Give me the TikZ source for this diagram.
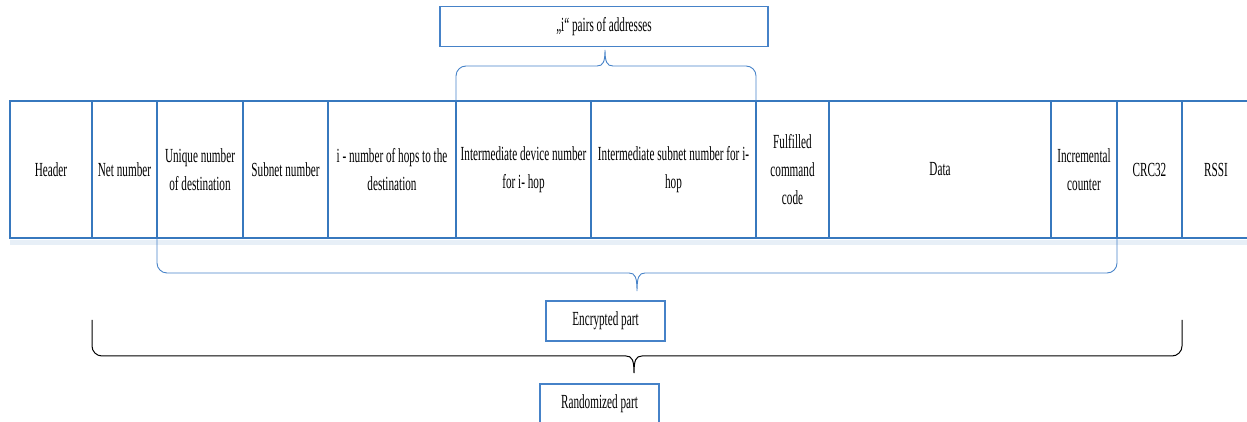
\documentclass[tikz,border=0pt]{standalone}
\usepackage{fontspec}
\setmainfont{Liberation Serif}[FakeStretch=0.56]
\usetikzlibrary{positioning}

\definecolor{fieldblue}{RGB}{55,120,190}
\definecolor{braceblue}{RGB}{70,130,200}

\tikzset{
    field/.style={draw=fieldblue, line width=2pt, fill=white, minimum height=137pt,
        inner sep=0pt, outer sep=0pt, align=center, font=\fontsize{20}{28}\selectfont},
    labelbox/.style={draw=braceblue, line width=1.3pt, fill=white, minimum height=40pt,
        inner sep=0pt, outer sep=0pt, font=\fontsize{20}{28}\selectfont},
    partbrace/.style={draw=braceblue, line width=0.9pt},
}

\begin{document}
\begin{tikzpicture}[x=1pt, y=1pt]

    \useasboundingbox (0,0) rectangle (1247,422);
    \clip (0,0) rectangle (1247,422);

    % Frame fields
    \node[field, minimum width=82pt] (hdr) at (51,252.5) {Header};
    \node[field, minimum width=65pt, right=0pt of hdr] (net) {Net number};
    \node[field, minimum width=86pt, right=0pt of net] (uniq) {Unique number\\of destination};
    \node[field, minimum width=85pt, right=0pt of uniq] (sub) {Subnet number};
    \node[field, minimum width=128pt, right=0pt of sub] (hops) {i - number of hops to the\\destination};
    \node[field, minimum width=135pt, right=0pt of hops] (idev) {Intermediate device number\\for i- hop};
    \node[field, minimum width=165pt, right=0pt of idev] (isub) {Intermediate subnet number for i-\\hop};
    \node[field, minimum width=73pt, right=0pt of isub] (cmd) {Fulfilled\\command\\code};
    \node[field, minimum width=222pt, right=0pt of cmd] (data) {Data};
    \node[field, minimum width=66pt, right=0pt of data] (incr) {Incremental\\counter};
    \node[field, minimum width=65pt, right=0pt of incr] (crc) {CRC32};
    \node[field, minimum width=68pt, right=0pt of crc] (rssi) {RSSI};

    % heavier top and bottom rules
    \draw[fieldblue!12, line width=5pt] (10,179.5) -- (1247,179.5);
    \draw[fieldblue, line width=2.8pt] (hdr.north west) -- (rssi.north east);
    \draw[fieldblue, line width=2.8pt] (hdr.south west) -- (rssi.south east);

    % Labels
    \node[labelbox, minimum width=328pt] (pairs) at (604,395.5) {„i“ pairs of addresses};
    \node[labelbox, minimum width=119pt] (encr) at (605.5,101) {Encrypted part};
    \node[labelbox, minimum width=119pt] (rand) at (599.5,18) {Randomized part};

    % Braces
    \coordinate (randL) at (92,102);
    \coordinate (randR) at (1182,102);

    \draw[partbrace] (idev.north west) -- (456,346) arc[start angle=180, end angle=90, radius=10]
        -- (597,356) .. controls (603,356) and (605,360) .. (605,372)
        .. controls (605,360) and (607,356) .. (613,356)
        -- (746,356) arc[start angle=90, end angle=0, radius=10] -- (isub.north east);

    \draw[partbrace] (uniq.south west) -- (157,159) arc[start angle=180, end angle=270, radius=10]
        -- (629,149) .. controls (635,149) and (637,145) .. (637,131)
        .. controls (637,145) and (639,149) .. (645,149)
        -- (1107,149) arc[start angle=270, end angle=360, radius=10] -- (incr.south east);

    \draw[black, line width=1pt] (randL) -- (92,76) arc[start angle=180, end angle=270, radius=10]
        -- (626,66) .. controls (632,66) and (634,62) .. (634,49)
        .. controls (634,62) and (636,66) .. (642,66)
        -- (1172,66) arc[start angle=270, end angle=360, radius=10] -- (randR);

\end{tikzpicture}
\end{document}
